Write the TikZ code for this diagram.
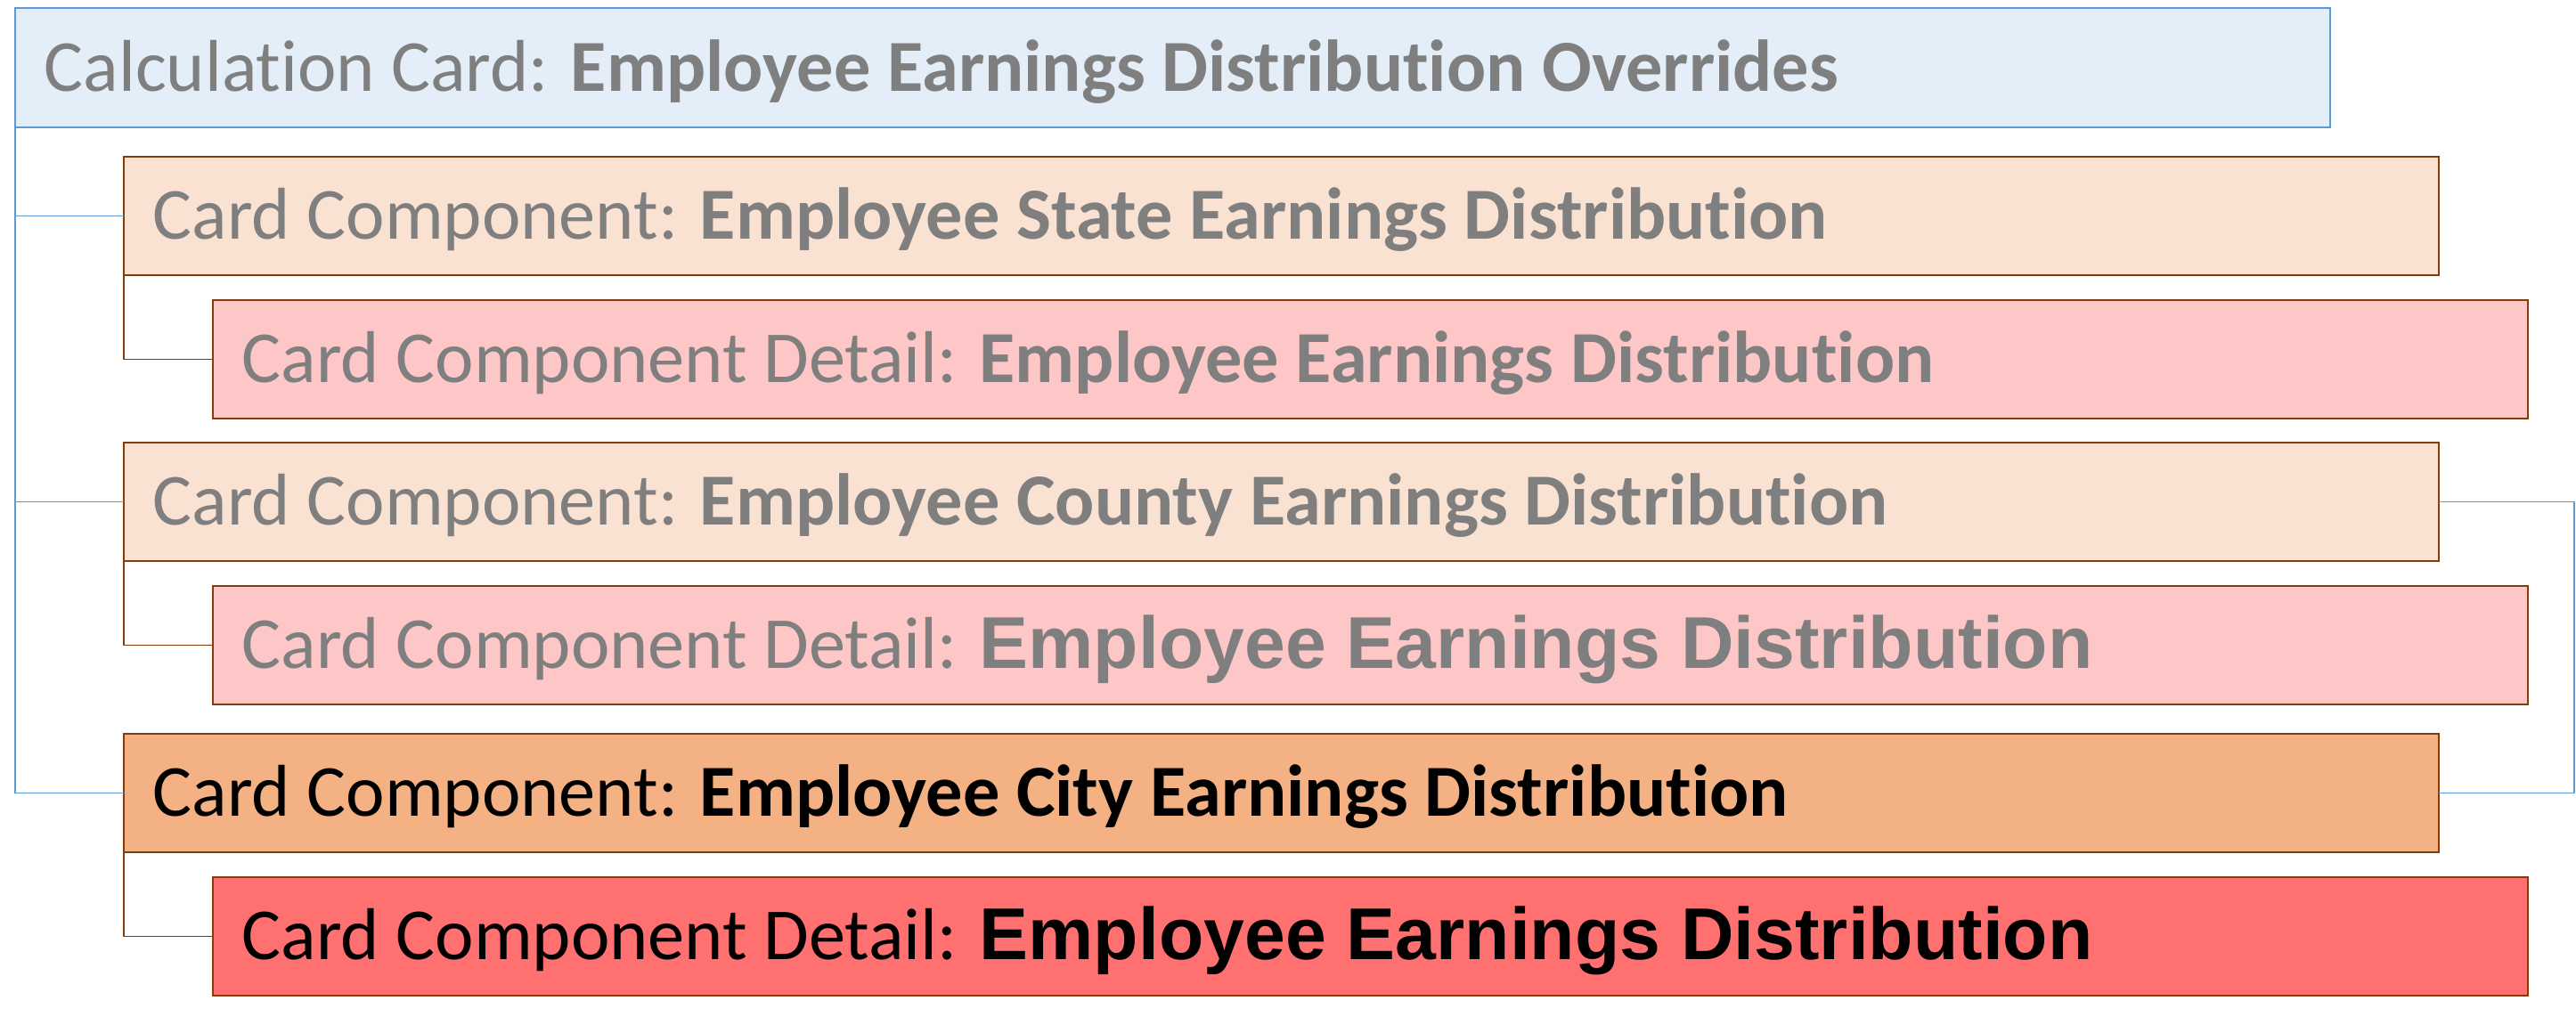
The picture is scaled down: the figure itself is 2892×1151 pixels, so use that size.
\documentclass[tikz,border=0pt]{standalone}
\usepackage{fontspec}
\setmainfont{Carlito}[Ligatures=NoCommon]
\newfontfamily\arialfont{Liberation Sans}
\usetikzlibrary{calc}

\definecolor{calcfill}{HTML}{E3EEF8}
\definecolor{calcline}{HTML}{5B9BD5}
\definecolor{compfill}{HTML}{FAE2D3}
\definecolor{detfill}{HTML}{FDC7C7}
\definecolor{cityfill}{HTML}{F4B183}
\definecolor{citydetfill}{HTML}{FF7171}
\definecolor{boxline}{HTML}{843C0C}
\definecolor{fadedtext}{HTML}{7F7F7F}

\newcommand{\cardtext}[1]{\makebox[633.35pt][l]{#1}}

\begin{document}
\begin{tikzpicture}[x=0.25pt, y=-0.25pt,
    card/.style={draw, rectangle, anchor=north west, outer sep=0pt, line width=0.5pt,
      minimum width=649.75pt, minimum height=33.25pt, inner xsep=8.2pt,
      text height=13.25pt, text depth=0pt,
      font=\fontsize{20.6}{24}\selectfont},
    calccard/.style={card, fill=calcfill, draw=calcline, text=fadedtext, minimum height=33.5pt},
    compcard/.style={card, fill=compfill, draw=boxline, text=fadedtext},
    detcard/.style={card, fill=detfill, draw=boxline, text=fadedtext},
    bluelink/.style={draw=calcline, line width=0.35pt},
    brownlink/.style={draw=boxline, line width=0.35pt}]
    \useasboundingbox (0,0) rectangle (2892,1151);

    \node[calccard] (calc) at (17,9) {\cardtext{Calculation Card: \textbf{Employee Earnings Distribution Overrides}}};

    \node[compcard] (compState) at (139,176) {\cardtext{Card Component: \textbf{Employee State Earnings Distribution}}};
    \node[detcard] (detState) at (239,337) {\cardtext{Card Component Detail: \textbf{Employee Earnings Distribution}}};

    \node[compcard] (compCounty) at (139,497) {\cardtext{Card Component: \textbf{Employee County Earnings Distribution}}};
    \node[detcard] (detCounty) at (239,658) {\cardtext{Card Component Detail: {\arialfont\bfseries Employee Earnings Distribution}}};

    \node[compcard, fill=cityfill, text=black] (compCity) at (139,824) {\cardtext{Card Component: \textbf{Employee City Earnings Distribution}}};
    \node[detcard, fill=citydetfill, text=black] (detCity) at (239,985) {\cardtext{Card Component Detail: {\arialfont\bfseries Employee Earnings Distribution}}};

    % calculation card to its components
    \draw[bluelink] (calc.south west) |- (compCity.west);
    \draw[bluelink] (calc.south west |- compState.west) -- (compState.west);
    \draw[bluelink] (calc.south west |- compCounty.west) -- (compCounty.west);

    % components to their details
    \draw[brownlink] (compState.south west) |- (detState.west);
    \draw[brownlink] (compCounty.south west) |- (detCounty.west);
    \draw[brownlink] (compCity.south west) |- (detCity.west);

    % county to city on the right
    \coordinate (rightRail) at (2890,0);
    \draw[bluelink] (compCounty.east) -- (compCounty.east -| rightRail) |- (compCity.east);
\end{tikzpicture}
\end{document}
